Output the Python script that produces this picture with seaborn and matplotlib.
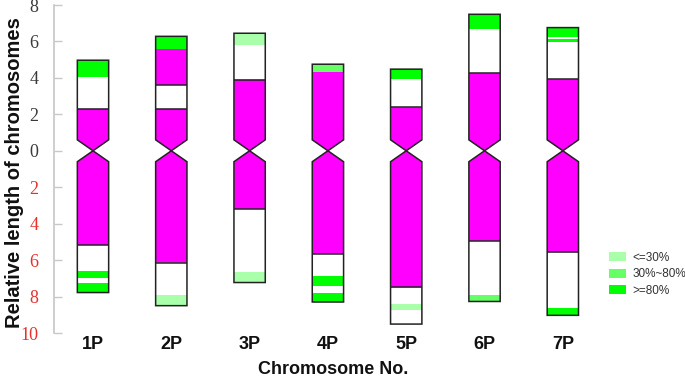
import matplotlib
matplotlib.use("Agg")
import matplotlib.pyplot as plt
from matplotlib.patches import Patch
import seaborn as sns

# chromosome data (relative lengths, short arm up / long arm down)
chroms = ["1P", "2P", "3P", "4P", "5P", "6P", "7P"]
short_arm = [4.97, 6.28, 6.45, 4.75, 4.48, 7.49, 6.76]
long_arm = [7.78, 8.50, 7.23, 8.30, 9.51, 8.27, 9.03]

# magenta regions, signed positions (negative = long arm)
magenta = [
    [(-5.17, 2.30)],
    [(-6.14, 2.30), (3.60, 5.61)],
    [(-3.19, 3.90)],
    [(-5.66, 4.33)],
    [(-7.50, 2.39)],
    [(-4.94, 4.26)],
    [(-5.57, 3.93)],
]

# signal bands (start, end, class) class 0: <=30%, 1: 30%~80%, 2: >=80%
bands = [
    [(4.07, 4.97, 2), (-7.00, -6.59, 2), (-7.78, -7.26, 2)],
    [(5.61, 6.28, 2), (-8.50, -7.94, 0)],
    [(5.80, 6.45, 0), (-7.23, -6.63, 0)],
    [(4.33, 4.75, 1), (-7.44, -6.85, 2), (-8.30, -7.81, 2)],
    [(3.93, 4.48, 2), (-8.73, -8.42, 0)],
    [(6.70, 7.49, 2), (-8.27, -7.90, 1)],
    [(6.25, 6.76, 2), (5.98, 6.16, 2), (-9.03, -8.63, 2)],
]

band_labels = ["<=30%", "30%~80%", ">=80%"]
band_colors = ["#aaffaa", "#66ff66", "#00ff00"]

hw = 0.2     # half width of a chromosome
tap = 0.6    # length of the centromere taper


def halfwidth(y):
    return hw if abs(y) >= tap else hw * abs(y) / tap


def shape(x, lo, hi):
    ys = [lo] + [v for v in (-tap, 0, tap) if lo < v < hi] + [hi]
    right = [(x + halfwidth(y), y) for y in ys]
    left = [(x - halfwidth(y), y) for y in reversed(ys)]
    return right + left


sns.set_theme(style="white")
plt.rcParams['font.family'] = ['Liberation Sans', 'DejaVu Sans']

fig = plt.figure(figsize=(6.85, 3.77), dpi=100)
ax = fig.add_axes([54 / 685, 44 / 377, 631 / 685, 328 / 377])

for i, name in enumerate(chroms):
    x = i + 1
    edges = [e for b in bands[i] for e in b[:2]]
    for lo, hi in magenta[i]:
        pts = shape(x, lo, hi)
        ax.fill([p[0] for p in pts], [p[1] for p in pts], color="#ff00ff", lw=0, zorder=2)
        for v in (lo, hi):
            if min(abs(v - e) for e in edges) > 0.02:
                ax.hlines(v, x - hw, x + hw, color="#222222", lw=1.1, zorder=4)
    for lo, hi, c in bands[i]:
        pts = shape(x, min(lo, hi), max(lo, hi))
        ax.fill([p[0] for p in pts], [p[1] for p in pts], color=band_colors[c], lw=0, zorder=3)
    # arm outlines
    for lo, hi in ((0, short_arm[i]), (-long_arm[i], 0)):
        pts = shape(x, lo, hi)
        ax.fill([p[0] for p in pts], [p[1] for p in pts], facecolor="none",
                edgecolor="#222222", lw=1.1, zorder=5)

ax.set_xlim(0.502, 8.56)
ax.set_ylim(-10, 8)

yt = list(range(-10, 9, 2))
ax.set_yticks(yt)
ax.set_yticklabels([str(abs(v)) for v in yt], family="Liberation Serif", fontsize=13)
for v, lab in zip(yt, ax.get_yticklabels()):
    lab.set_color("#e8302c" if v < 0 else "#3a3a3a")
ax.tick_params(axis="y", direction="in", length=6, width=1, color="#c8c8c8", pad=11, left=True)

ax.set_xticks(range(1, 8))
ax.set_xticklabels(chroms, fontweight="bold", fontsize=13, color="#111111")
ax.tick_params(axis="x", length=0, pad=2)

ax.set_xlabel("Chromosome No.", fontweight="bold", fontsize=13, color="#111111")
ax.xaxis.set_label_coords((333 - 54) / 631, -0.085)
ax.set_ylabel("Relative length of chromosomes", fontweight="bold", fontsize=14.5, color="#111111")
ax.yaxis.set_label_coords(-0.047, 0.49)

sns.despine(ax=ax, bottom=True)
ax.spines["left"].set_color("#c8c8c8")

handles = [Patch(facecolor=c, edgecolor="none", label=l) for c, l in zip(band_colors, band_labels)]
ax.legend(handles=handles, loc="upper left", bbox_to_anchor=(598 / 685, 136 / 377),
          bbox_transform=fig.transFigure, frameon=False, fontsize=8.5,
          handlelength=1.5, handleheight=0.8, labelspacing=0.4, handletextpad=0.5,
          labelcolor="#333333")

fig.savefig("out.png", dpi=100)
